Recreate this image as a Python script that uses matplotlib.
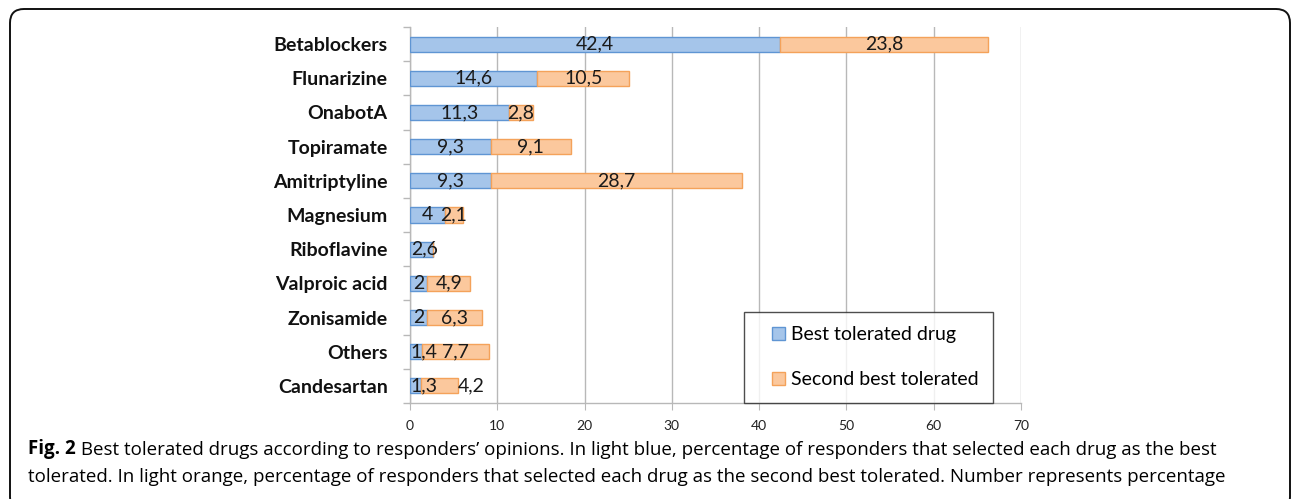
import matplotlib
matplotlib.use("Agg")
import matplotlib.pyplot as plt
import matplotlib.patches as mpatches
from matplotlib.legend_handler import HandlerPatch
import numpy as np

drugs = ["Betablockers", "Flunarizine", "OnabotA", "Topiramate", "Amitriptyline",
         "Magnesium", "Riboflavine", "Valproic acid", "Zonisamide", "Others", "Candesartan"]
best = [42.4, 14.6, 11.3, 9.3, 9.3, 4, 2.6, 2, 2, 1.4, 1.3]
second = [23.8, 10.5, 2.8, 9.1, 28.7, 2.1, 0, 4.9, 6.3, 7.7, 4.2]

blue_fill, blue_edge = "#a5c5ea", "#5f95d3"
orange_fill, orange_edge = "#fbc89d", "#f4a25a"
grid_col = "#b8b8b8"


def fmt(v):
    return ("%g" % v).replace(".", ",")


def square_handle(legend, orig_handle, xdescent, ydescent, width, height, fontsize):
    # small square sitting at the right end of a wider handle box
    s = 9.0
    return mpatches.Rectangle((width - s - xdescent, -ydescent + (height - s) / 2), s, s)


fig = plt.figure(figsize=(12.92, 4.99), dpi=100)
ax = fig.add_axes([0.3173, 0.1924, 0.4729, 0.7535])

y = np.arange(len(drugs))
h = 0.44
b1 = ax.barh(y, best, height=h, color=blue_fill, edgecolor=blue_edge, lw=1.0,
             label="Best tolerated drug", zorder=3)
b2 = ax.barh(y, second, left=best, height=h, color=orange_fill, edgecolor=orange_edge, lw=1.0,
             label="Second best tolerated", zorder=3)

ax.set_xlim(0, 70)
ax.set_ylim(len(drugs) - 0.5, -0.5)

lbl_kw = dict(va="center", fontsize=14, family="Lato", color="#1a1a1a", zorder=4)
labels = []
for i in range(len(drugs)):
    t1 = ax.text(best[i] / 2, y[i], fmt(best[i]), ha="center", **lbl_kw)
    t2 = None
    if second[i] > 0:
        t2 = ax.text(best[i] + second[i] / 2, y[i], fmt(second[i]), ha="center", **lbl_kw)
    labels.append((t1, t2))

ax.set_xticks(np.arange(0, 71, 10))
ax.xaxis.grid(True, color=grid_col, lw=1.0, zorder=0)
ax.tick_params(axis="x", length=5, color=grid_col, labelsize=10, pad=7.5, labelcolor="#222222")
for lab in ax.get_xticklabels():
    lab.set_family("Lato")

# category labels without tick marks, boundary ticks as minor
ax.set_yticks(y)
ax.set_yticklabels(drugs, fontsize=14, fontweight="bold", family="Lato", color="#111111")
ax.tick_params(axis="y", which="major", length=0, pad=16)
ax.set_yticks(np.arange(-0.5, len(drugs), 1.0), minor=True)
ax.tick_params(axis="y", which="minor", length=5, color=grid_col, width=1.0)

for side in ["top", "right"]:
    ax.spines[side].set_visible(False)
for side in ["left", "bottom"]:
    ax.spines[side].set_color(grid_col)
    ax.spines[side].set_linewidth(1.0)

# nudge small labels like Excel does: keep inside axis, push overlapping one past bar end
fig.canvas.draw()
rend = fig.canvas.get_renderer()
px_per_unit = ax.transData.transform((1, 0))[0] - ax.transData.transform((0, 0))[0]
ax_left = ax.transData.transform((0, 0))[0]
for i, (t1, t2) in enumerate(labels):
    bb1 = t1.get_window_extent(rend)
    if bb1.x0 < ax_left + 1:
        t1.set_x(t1.get_position()[0] + (ax_left + 1 - bb1.x0) / px_per_unit)
        bb1 = t1.get_window_extent(rend)
    if t2 is not None:
        bb2 = t2.get_window_extent(rend)
        if bb2.x0 < bb1.x1 + 2:
            t2.set_ha("left")
            t2.set_x(best[i] + second[i])

leg = ax.legend(handles=[b1.patches[0], b2.patches[0]],
                labels=["Best tolerated drug", "Second best tolerated"],
                loc="lower right", bbox_to_anchor=(0.954, 0.0),
                frameon=True, fancybox=False, edgecolor="#222222",
                prop={"family": "Lato", "size": 14}, labelspacing=1.45,
                handlelength=1.35, handleheight=0.7, handletextpad=0.3,
                borderpad=0.75, borderaxespad=0,
                handler_map={mpatches.Rectangle: HandlerPatch(patch_func=square_handle)})
leg.get_frame().set_linewidth(1.0)
leg.set_zorder(5)

# rounded outer frame
frame = mpatches.FancyBboxPatch((10, -12), 1280, 502,
                                boxstyle="round,pad=0,rounding_size=14",
                                transform=None, fill=False, ec="#111111", lw=1.4,
                                clip_on=False)
fig.patches.append(frame)

fig_lbl = fig.text(28 / 1292, 1 - 454 / 499, "Fig. 2", fontsize=13.5, fontweight="bold",
                   family="Open Sans", va="baseline", ha="left")
ax.annotate(" Best tolerated drugs according to responders\u2019 opinions. In light blue, percentage "
            "of responders that selected each drug as the best",
            xy=(1, 0), xycoords=fig_lbl, va="bottom", ha="left", annotation_clip=False,
            fontsize=13.5, family="Open Sans")
fig.text(28 / 1292, 1 - 482 / 499,
         "tolerated. In light orange, percentage of responders that selected each drug as the "
         "second best tolerated. Number represents percentage",
         fontsize=13.5, family="Open Sans", va="baseline", ha="left")

fig.savefig("out.png", dpi=100)
